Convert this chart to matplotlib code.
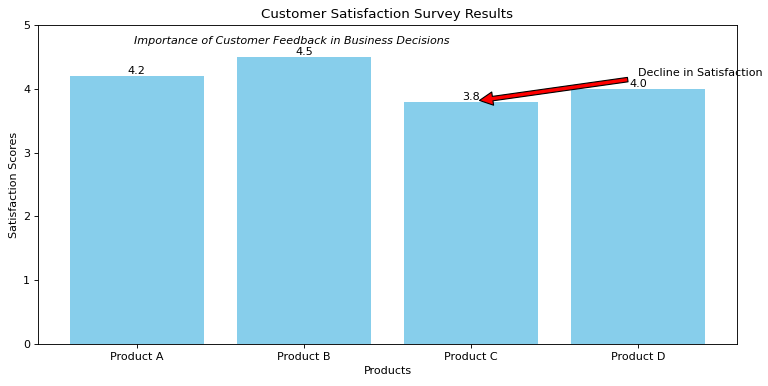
import matplotlib
matplotlib.use("Agg")
import matplotlib.pyplot as plt

products = ["Product A", "Product B", "Product C", "Product D"]
scores = [4.2, 4.5, 3.8, 4.0]

fig, ax = plt.subplots(figsize=(9.6, 4.825), dpi=80)
bars = ax.bar(products, scores, color="skyblue")
for i, v in enumerate(scores):
    ax.text(i, v, f"{v:.1f}", ha="center", va="bottom", fontsize=10)

ax.set_ylim(0, 5)
ax.set_title("Customer Satisfaction Survey Results", fontsize=12)
ax.set_xlabel("Products")
ax.set_ylabel("Satisfaction Scores")
ax.text(0.93, 4.75, "Importance of Customer Feedback in Business Decisions",
        ha="center", va="center", style="italic", fontsize=10)
ax.annotate("Decline in Satisfaction", xy=(2, 3.8), xytext=(3, 4.2),
            arrowprops=dict(facecolor="red", shrink=0.05),
            fontsize=10)

fig.subplots_adjust(left=0.0495, right=0.9596, top=0.935, bottom=0.1088)
fig.savefig("out.png", dpi=80)
